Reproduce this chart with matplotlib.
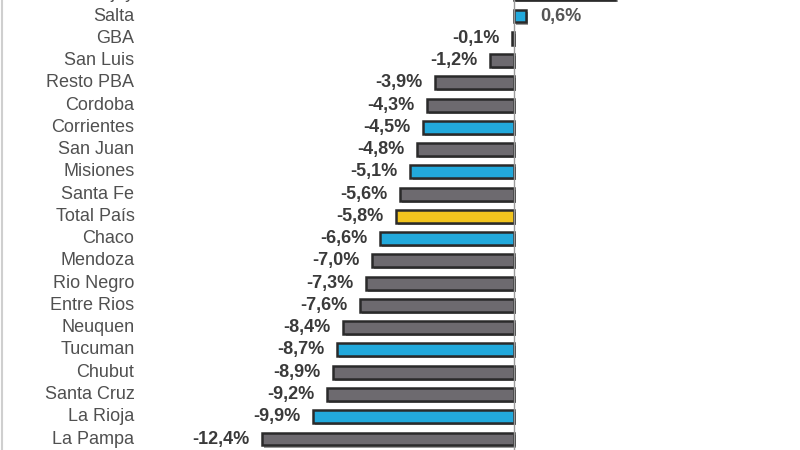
import matplotlib.pyplot as plt
import matplotlib.patheffects as pe
from matplotlib.transforms import blended_transform_factory

plt.rcParams['font.family'] = ['Liberation Sans', 'DejaVu Sans']

# Datos: variación interanual por provincia
provincias = ['Jujuy', 'Salta', 'GBA', 'San Luis', 'Resto PBA', 'Cordoba', 'Corrientes',
              'San Juan', 'Misiones', 'Santa Fe', 'Total País', 'Chaco', 'Mendoza',
              'Rio Negro', 'Entre Rios', 'Neuquen', 'Tucuman', 'Chubut', 'Santa Cruz',
              'La Rioja', 'La Pampa']
valores = [5.0, 0.6, -0.1, -1.2, -3.9, -4.3, -4.5, -4.8, -5.1, -5.6, -5.8, -6.6, -7.0,
           -7.3, -7.6, -8.4, -8.7, -8.9, -9.2, -9.9, -12.4]
grupo = ['g', 'b', 'g', 'g', 'g', 'g', 'b', 'g', 'b', 'g', 't', 'b', 'g', 'g', 'g', 'g',
         'b', 'g', 'g', 'b', 'g']

colores = {'g': '#6d6a6f', 'b': '#22a9dc', 't': '#f2c41e'}

fig = plt.figure(figsize=(8, 4.5), dpi=100)
ax = fig.add_axes([0, 0, 1, 1])

y = list(range(len(provincias)))
barras = ax.barh(y, valores, height=0.58, color=[colores[g] for g in grupo],
                 edgecolor='#2a2a2a', linewidth=1.8, zorder=3)
for b in barras:
    b.set_path_effects([pe.SimplePatchShadow(offset=(1.5, -1.5), shadow_rgbFace='#555555', alpha=0.6),
                        pe.Normal()])

# linea del cero y borde izquierdo
ax.axvline(0, color='#9a9a9a', lw=1, zorder=4)
ax.axvline(-25.2, color='#cfcfcf', lw=1.5)

tr = blended_transform_factory(ax.transAxes, ax.transData)
for i, (p, v) in enumerate(zip(provincias, valores)):
    ax.text(0.168, i, p, transform=tr, ha='right', va='center', fontsize=13,
            color='#505050')
    txt = f'{v:.1f}%'.replace('.', ',')
    if v >= 0:
        ax.annotate(txt, (v, i), xytext=(10.5, 0), textcoords='offset points',
                    ha='left', va='center', fontsize=13, fontweight='bold', color='#555555')
    else:
        ax.annotate(txt, (v, i), xytext=(-9.0, 0), textcoords='offset points',
                    ha='right', va='center', fontsize=13, fontweight='bold', color='#3a3a3a')

ax.set_xlim(-25.32, 14.09)
ax.set_ylim(20.494, 0.281)
ax.axis('off')

plt.savefig('out.png', dpi=100)
plt.close()
